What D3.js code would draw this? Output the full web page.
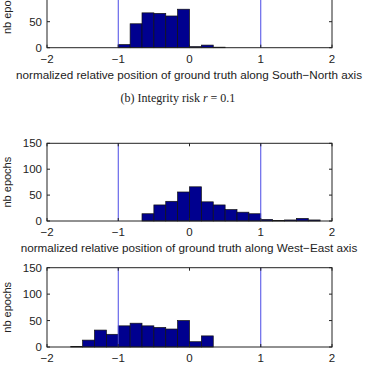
<!DOCTYPE html>
<meta charset="utf-8">
<html>
<head>
<script src="https://d3js.org/d3.v7.min.js"></script>
<style>
  body { margin: 0; background: #fff; }
  text { font-family: "Liberation Sans", Arial, sans-serif; fill: #222; }
  .caption { font-family: "Liberation Serif", "Times New Roman", serif; }
</style>
</head>
<body>
<svg width="365" height="366"></svg>
<script>
// ---- data: counts per bin of width 1/6 over [-2, 2] ----
var binLo = -2, binHi = 2, nBins = 24;
var countsSouthNorth = [0,0,0,0,0,0, 6,46,67,66,61,74, 2,5,1,0,0,0, 0,0,0,0,0,0];
var countsWestEast   = [0,0,0,0,0,0, 0,0,14,31,38,56, 66,37,31,22,17,14, 3,1,2,5,2,0];
var countsThird      = [0,0,1,13,32,24, 40,45,40,37,34,50, 10,21,0,0,0,0, 0,0,0,0,0,0];
var xTicks = [-2, -1, 0, 1, 2];
var yTicks = [0, 50, 100, 150];
var bounds = [-1, 1];
var xLabelSN = "normalized relative position of ground truth along South\u2212North axis";
var xLabelWE = "normalized relative position of ground truth along West\u2212East axis";
var captionText = ["(b) Integrity risk ", "r", " = 0.1"];

var svg = d3.select("svg");
var left = 47, right = 332;

function fmt(v) { return v < 0 ? "\u2212" + Math.abs(v) : String(v); }

function histo(counts, top, bottom, xlabel) {
  var x = d3.scaleLinear().domain([binLo, binHi]).range([left, right]);
  var y = d3.scaleLinear().domain([0, 150]).range([bottom, top]);
  var w = (binHi - binLo) / nBins;
  var g = svg.append("g");

  var bins = counts.map(function(c, i) { return {x0: binLo + i * w, x1: binLo + (i + 1) * w, c: c}; })
    .filter(function(d) { return d.c > 0; });

  g.selectAll("rect.bar").data(bins).enter().append("rect")
    .attr("class", "bar")
    .attr("x", function(d) { return x(d.x0); })
    .attr("width", function(d) { return x(d.x1) - x(d.x0); })
    .attr("y", function(d) { return y(d.c); })
    .attr("height", function(d) { return y(0) - y(d.c); })
    .attr("fill", "#00008f")
    .attr("stroke", "#111")
    .attr("stroke-width", 0.7);

  g.selectAll("line.bound").data(bounds).enter().append("line")
    .attr("x1", function(d) { return x(d); }).attr("x2", function(d) { return x(d); })
    .attr("y1", top).attr("y2", bottom)
    .attr("stroke", "#4a4ae6").attr("stroke-width", 1);

  // box
  g.append("rect").attr("x", left).attr("y", top)
    .attr("width", right - left).attr("height", bottom - top)
    .attr("fill", "none").attr("stroke", "#222").attr("stroke-width", 1);

  var tl = 3;
  xTicks.forEach(function(t) {
    g.append("line").attr("x1", x(t)).attr("x2", x(t)).attr("y1", bottom).attr("y2", bottom - tl).attr("stroke", "#222");
    g.append("line").attr("x1", x(t)).attr("x2", x(t)).attr("y1", top).attr("y2", top + tl).attr("stroke", "#222");
    g.append("text").attr("x", x(t)).attr("y", bottom + 15)
      .attr("text-anchor", "middle").attr("font-size", 11.5).text(fmt(t));
  });
  yTicks.forEach(function(t) {
    g.append("line").attr("x1", left).attr("x2", left + tl).attr("y1", y(t)).attr("y2", y(t)).attr("stroke", "#222");
    g.append("line").attr("x1", right).attr("x2", right - tl).attr("y1", y(t)).attr("y2", y(t)).attr("stroke", "#222");
    g.append("text").attr("x", left - 5).attr("y", y(t) + 4)
      .attr("text-anchor", "end").attr("font-size", 11.5).text(t);
  });

  g.append("text")
    .attr("transform", "translate(11," + ((top + bottom) / 2) + ") rotate(-90)")
    .attr("text-anchor", "middle").attr("font-size", 11).text("nb epochs");

  if (xlabel) {
    g.append("text").attr("x", (left + right) / 2 - 0.5).attr("y", bottom + 31)
      .attr("text-anchor", "middle").attr("font-size", 11.7).text(xlabel);
  }
}

histo(countsSouthNorth, -30.3, 47.7, xLabelSN);
histo(countsWestEast, 143.3, 221, xLabelWE);
histo(countsThird, 267.7, 347, null);

var cap = svg.append("text").attr("class", "caption")
  .attr("x", 178).attr("y", 102).attr("text-anchor", "middle").attr("font-size", 12);
cap.append("tspan").text(captionText[0]);
cap.append("tspan").attr("font-style", "italic").text(captionText[1]);
cap.append("tspan").text(captionText[2]);
</script>
</body>
</html>
